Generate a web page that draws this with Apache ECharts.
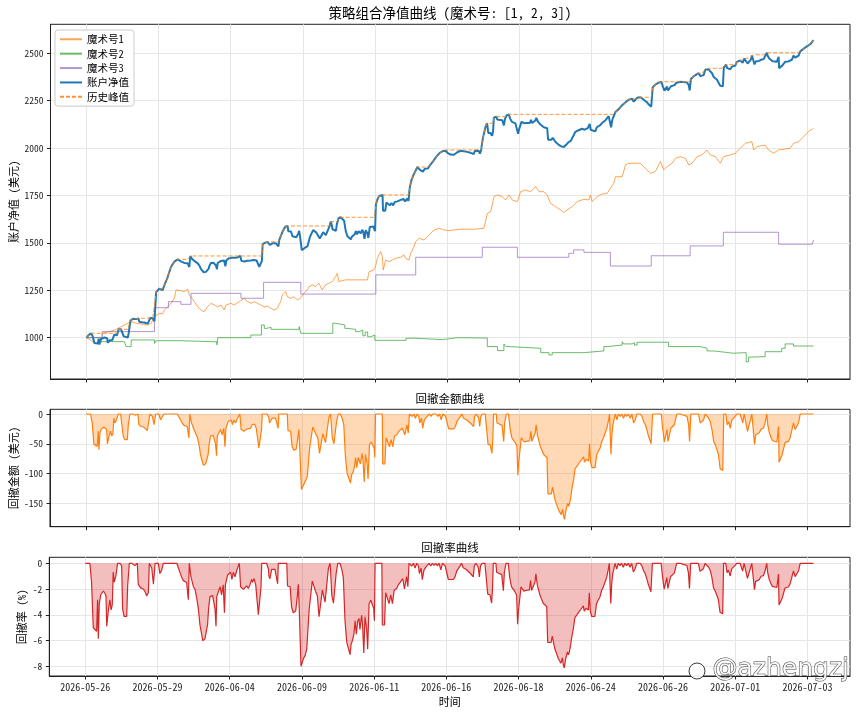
<!DOCTYPE html>
<html>
<head>
<meta charset="utf-8">
<script src="https://cdn.jsdelivr.net/npm/echarts@6/dist/echarts.min.js"></script>
<style>
html, body { margin: 0; padding: 0; background: #fff; }
#main { width: 856px; height: 712px; }
</style>
</head>
<body>
<div id="main"></div>
<script>
// x 轴: 交易序号，每 30 个一个刻度
var tickPos = [0, 30, 60, 90, 120, 150, 180, 210, 240, 270, 300];
var dateLabels = ['2026-05-26', '2026-05-29', '2026-06-04', '2026-06-09', '2026-06-11', '2026-06-16',
                  '2026-06-18', '2026-06-24', '2026-06-26', '2026-07-01', '2026-07-03'];
var equityTicks = [1000, 1250, 1500, 1750, 2000, 2250, 2500];
var ddTicks = [0, -50, -100, -150];
var pctTicks = [0, -2, -4, -6, -8];

// 账户净值 [序号, 净值]
var equity = [
[0,1000],[0.8,1012],[1.9,1023],[2.6,1008],[3.3,972],[4.0,971],[4.7,969],[5.1,994],[5.4,963],[5.8,991],[6.4,998],[7.5,1001],[8.2,999],[8.6,997],[8.9,973],[9.6,986],[10.2,994],[10.7,986],[11.2,990],[11.6,1016],[12.0,1008],[12.7,1013],[13.4,1044],[14.4,1044],[15.1,1042],[15.5,1007],[16.1,1001],[17.2,1001],[17.6,1026],[18.3,1090],[19.3,1100],[20.6,1098],[21.6,1102],[22.0,1084],[23.0,1081],[24.1,1080],[24.8,1078],[25.5,1074],[26.2,1077],[26.6,1105],[27.6,1101],[28.3,1087],[29.0,1240],[30.3,1258],[31.0,1248],[31.7,1251],[32.4,1276],[33.8,1320],[35.2,1374],[36.6,1401],[38.0,1413],[38.6,1411],[39.3,1403],[40.0,1398],[40.7,1394],[41.4,1396],[42.1,1392],[42.8,1373],[43.2,1431],
[43.9,1416],[44.9,1405],[45.6,1402],[46.3,1392],[47.0,1380],[47.6,1363],[48.3,1365],[48.8,1345],[49.7,1347],[50.4,1347],[50.8,1363],[51.2,1380],[51.8,1394],[52.9,1395],[53.6,1394],[53.9,1380],[54.3,1361],[54.6,1394],[55.3,1394],[56.0,1405],[56.6,1396],[57.3,1407],[57.8,1376],[58.2,1407],[58.7,1406],[59.1,1418],[59.8,1416],[60.4,1421],[60.9,1413],[61.5,1421],[62.2,1416],[62.9,1423],[63.6,1421],[64.0,1431],[64.5,1405],[65.7,1402],[66.3,1401],[67.0,1406],[67.7,1403],[68.4,1407],[69.1,1413],[69.5,1410],[70.1,1414],[70.8,1407],[71.2,1409],[71.9,1374],[72.6,1372],[73.0,1405],[73.3,1493],[74.2,1500],[75.3,1505],
[76.1,1498],[76.3,1490],[76.7,1487],[77.4,1498],[78.8,1498],[79.9,1481],[80.2,1515],[81.6,1560],[82.7,1585],[83.7,1589],[84.0,1561],[85.1,1560],[85.7,1535],[86.4,1528],[87.4,1530],[88.1,1549],[88.5,1563],[88.9,1532],[89.6,1462],[90.2,1464],[90.7,1472],[91.3,1475],[92.0,1483],[92.4,1483],[93.0,1532],[93.6,1534],[94.3,1567],[95.0,1565],[95.7,1554],[96.4,1549],[97.1,1523],[97.8,1524],[98.5,1556],[98.9,1554],[99.6,1541],[100.3,1542],[101.0,1583],[101.7,1612],[102.0,1597],[102.4,1572],[103.1,1562],[103.8,1564],[104.2,1599],[104.9,1630],[105.8,1635],[106.5,1628],[107.2,1617],[107.9,1562],[108.6,1535],[109.3,1533],[110.0,1519],[110.4,1532],[111.0,1537],[111.6,1545],[112.1,1562],[112.6,1545],[113.2,1562],[113.7,1565],[114.1,1551],[114.8,1569],[115.2,1556],[115.7,1521],[116.2,1567],[116.9,1551],[117.3,1526],[117.9,1584],[118.6,1588],[119.3,1587],[119.8,1578],[120.1,1562],
[120.4,1700],[121.1,1730],[121.8,1748],[123.2,1753],[123.4,1669],[124.3,1669],[124.8,1713],[125.5,1715],[126.2,1698],[126.9,1710],[127.6,1698],[128.3,1716],[129.0,1717],[129.4,1719],[130.1,1724],[130.8,1727],[131.5,1729],[131.9,1732],[132.6,1718],[133.1,1719],[133.5,1735],[134.0,1721],[134.5,1790],[135.2,1830],[135.6,1826],[136.3,1865],[137.0,1858],[137.7,1900],[138.4,1896],[138.8,1885],[139.5,1893],[140.0,1876],[140.7,1890],[141.4,1894],[142.1,1893],[142.8,1907],[143.5,1903],[144.2,1930],[144.9,1927],[145.6,1955],[146.3,1951],[147.0,1975],[147.7,1965],[148.4,1985],[149.0,1990],[149.5,1986],[150.2,1975],[150.8,1965],
[151.5,1966],[152.9,1965],[153.6,1969],[154.3,1978],[155.0,1980],[155.7,1986],[156.3,1990],[157.0,1983],[157.7,1986],[158.4,1980],[159.1,1978],[159.8,1975],[160.5,1972],[161.2,1969],[161.6,1986],[162.3,1992],[163.3,1985],[163.7,1971],[164.2,1988],[164.9,2050],[166.0,2110],[166.7,2131],[167.2,2080],[168.1,2079],[168.8,2065],[169.2,2091],[169.5,2160],[170.6,2166],[170.9,2151],[171.6,2148],[173.0,2147],[173.7,2120],[174.1,2151],[174.8,2172],[175.7,2178],[176.2,2176],[176.4,2152],[177.1,2138],[177.8,2135],[178.5,2130],[179.2,2124],[179.6,2075],[180.0,2099],[180.6,2102],[181.0,2138],[181.7,2138],[182.2,2131],[183.1,2132],[183.8,2135],[184.5,2133],[185.0,2149],[185.4,2132],[186.1,2135],[186.8,2146],[187.2,2160],[187.8,2141],[188.2,2138],[188.9,2124],[189.6,2121],[190.3,2110],[191.0,2108],[191.7,2105],[192.1,2044],[192.8,2043],[193.5,2044],[194.0,2055],[194.7,2053],[195.1,2033],[195.8,2031],[196.5,2017],[197.2,2017],[197.6,2009],[198.2,2018],[198.6,2006],[199.0,2001],[199.6,2017],[200.3,2028],[200.7,2023],[201.1,2028],[201.6,2039],[202.1,2053],[202.7,2066],[203.4,2086],[204.1,2090],[204.8,2094],[205.5,2097],[206.2,2102],[206.9,2106],[207.3,2097],[208.0,2102],[208.6,2105],[209.0,2099],[209.4,2128],[209.8,2097],[210.4,2088],[211.7,2088],[212.4,2110],[213.1,2116],[213.8,2121],[214.5,2132],[215.2,2138],[215.9,2146],[216.6,2154],[217.3,2168],[217.7,2178],[218.3,2110],[218.7,2143],[219.1,2160],[219.6,2168],[220.1,2190],[220.8,2180],[221.4,2205],[222.1,2201],[222.8,2225],[223.5,2218],[224.2,2240],[224.9,2236],[225.6,2255],[226.3,2248],[227.0,2260],[227.7,2245],[228.4,2250],[229.1,2265],[229.8,2268],
[230.5,2268],[231.2,2264],[231.9,2255],[232.6,2250],[233.2,2242],[233.9,2231],[234.6,2229],[235.0,2218],[235.6,2320],[236.7,2335],[238.1,2345],[239.2,2350],[239.8,2326],[240.5,2303],[241.1,2304],[241.6,2324],[242.0,2304],[242.7,2304],[243.2,2326],[243.9,2329],[244.7,2332],[245.3,2343],[245.7,2350],[247.1,2350],[248.5,2348],[249.2,2347],[249.9,2346],[250.6,2332],[251.0,2304],[251.5,2365],[252.6,2378],[254.7,2395],[255.4,2380],[256.1,2380],[256.8,2385],[257.5,2415],[258.2,2421],[258.9,2414],[259.6,2408],[260.3,2395],[261.0,2375],[261.6,2370],[262.3,2362],[263.0,2353],[263.7,2329],[264.4,2326],[264.8,2326],[265.2,2425],[266.1,2440],[266.6,2422],[267.2,2427],[267.9,2416],[268.6,2430],[269.3,2433],[270.0,2436],[270.6,2455],[272.0,2462],[272.7,2465],[273.1,2450],[273.7,2472],[274.5,2475],[275.1,2446],[275.9,2446],[276.5,2468],[276.9,2488],[277.6,2492],[278.0,2441],[278.5,2457],[279.2,2455],[279.9,2460],[280.8,2467],[281.7,2468],[282.4,2477],[283.1,2503],[283.5,2485],[284.2,2471],[284.9,2463],[285.5,2458],[286.3,2457],[287.3,2456],[288.0,2482],[288.2,2422],[288.9,2420],[289.5,2435],[290.0,2438],[290.7,2455],[291.4,2456],[292.1,2457],[292.8,2463],[293.5,2466],[294.2,2488],[294.9,2477],[295.6,2477],[296.3,2488],[297.0,2510],[297.7,2518],[299.0,2530],[300.4,2542],[301.5,2552],[302.5,2570]
];

// 魔术号1
var magic1 = [
[0,1000],[2,985],[4,970],[6,972],[6.8,1023],[11.7,1040],[17.2,1076],[18.6,1084],[20.7,1076],[25.5,1067],[26.9,1076],[28.3,1111],[30.3,1128],[31.7,1125],[32.4,1146],[33.8,1163],[35.2,1181],[36.6,1208],[37.3,1252],[39.3,1248],[40.7,1243],[42.1,1255],[42.8,1225],[44.9,1190],[46.3,1163],[47.6,1146],[49,1137],[50.4,1163],[51.8,1181],[53.2,1172],[54.6,1163],[56,1172],[57.3,1146],[58,1172],[60.1,1181],[61.5,1172],[63.5,1190],[65.7,1208],[67,1190],[68.4,1181],[69.8,1190],[71.2,1181],[72.6,1172],[74,1163],[75.3,1167],[76.7,1155],[78.1,1146],[79.4,1155],[80.8,1190],[81.5,1225],[82.9,1243],[83.6,1216],[84.3,1220],[85,1208],[86.4,1216],[87.7,1199],[89.1,1208],[90.5,1234],[91.9,1252],[92.6,1269],[94,1278],[95.3,1269],[96.7,1287],[98.1,1252],[99.5,1278],[100.9,1287],[102.3,1296],[103.7,1322],[104.4,1340],[105,1296],[107.8,1305],[116.9,1305],[117.6,1348],[119.6,1357],[120.3,1375],[121,1419],[122.4,1454],[123.1,1427],[123.5,1357],[124.5,1410],[125.9,1401],[127.3,1410],[128.7,1419],[130.7,1424],[132.1,1436],[132.8,1419],[134.2,1410],[134.9,1445],[136.3,1480],[137,1507],[138.4,1524],[140.5,1515],[142.6,1542],[144.6,1568],[146.7,1577],[148.8,1568],[150.8,1565],[155.7,1572],[161.3,1572],[165.4,1577],[166.8,1656],[168.2,1665],[169.6,1744],[171,1753],[173,1744],[174.4,1726],[175.8,1753],[177.2,1726],[179.3,1718],[180.6,1770],[182.7,1779],[184.8,1770],[186.9,1797],[188.3,1770],[190.3,1770],[191.7,1753],[193.1,1709],[195.2,1691],[197.3,1674],[198.6,1660],[200,1674],[202.1,1691],[204.2,1718],[207,1730],[209,1726],[209.7,1753],[210.4,1718],[212.5,1744],[214.6,1758],[216.7,1762],[218,1788],[219.4,1814],[220.1,1849],[222.9,1849],[224.3,1911],[225.7,1920],[230.5,1920],[232.6,1893],[234.7,1867],[236.7,1876],[238.8,1929],[240.2,1885],[241.6,1902],[243.7,1920],[245.1,1946],[247.1,1955],[249.2,1946],[250.6,1911],[252,1920],[254.1,1955],[256.1,1964],[258.2,1990],[259.6,1964],[261.7,1955],[263.7,1920],[265.1,1955],[267.9,1964],[270,1973],[272.1,1999],[274.1,2025],[276.9,2034],[277.6,1990],[279,2008],[282.4,2016],[283.8,1990],[285.9,1973],[288,1990],[292.8,1999],[294.2,2025],[296.3,2034],[298.4,2060],[300.4,2087],[302.5,2104]
];

// 魔术号2 (阶梯)
var magic2 = [
[0,1000],[6,979],[15.8,975],[16.5,953],[18.6,988],[28.3,970],[29,984],[39.4,978],[54.3,962],[54.6,1000],[68.4,1014],[72.8,1067],[74,1049],[75,1055],[76.8,1044],[88.5,1058],[89.2,1023],[102.5,1076],[103.5,1067],[107.5,1049],[108.5,1044],[112,1032],[113.5,1040],[115,1010],[116,1030],[117,1005],[118.3,1014],[120,986],[133,997],[137,990],[148.1,1000],[154.3,998],[166.8,953],[171,932],[173.7,967],[174.5,953],[175.7,944],[189,921],[192.4,909],[193.8,921],[207,930],[215.3,953],[216.6,961],[222.9,979],[223.5,967],[227,974],[228,961],[229.1,976],[242.2,953],[255.4,944],[258.2,930],[261,923],[265.8,918],[269,921],[274.5,873],[275.5,897],[276,900],[282.4,926],[289.3,944],[290.7,967],[294.2,956],[302.5,953]
];

// 魔术号3 (阶梯)
var magic3 = [
[0,1000],[6.5,1032],[28.3,1158],[34.1,1190],[39.3,1176],[43.5,1234],[64.3,1208],[73.7,1292],[89.2,1230],[120.4,1331],[137,1424],[164.7,1477],[179.3,1424],[200.7,1445],[202.7,1463],[207,1450],[218,1378],[235,1432],[251.2,1484],[265,1556],[288,1493],[302,1493],[302.5,1515]
];

// 历史峰值和回撤
var peak = [], ddAmount = [], ddPct = [];
var runMax = -Infinity;
equity.forEach(function (p) {
    runMax = Math.max(runMax, p[1]);
    peak.push([p[0], runMax]);
    ddAmount.push([p[0], p[1] - runMax]);
    ddPct.push([p[0], (p[1] - runMax) / runMax * 100]);
});

var FONT = '"Noto Sans Mono CJK SC", "Noto Sans CJK SC", "Noto Sans", sans-serif';
var gridColor = '#e6e6e6';
var inkColor = '#222';

function xAxisFor(gridIndex, showLabel) {
    var ax = {
        type: 'value', gridIndex: gridIndex, min: -14.96, max: 317.7,
        axisLine: { show: true, onZero: false, lineStyle: { color: inkColor, width: 1 } },
        axisTick: { show: true, customValues: tickPos, length: 3.5, lineStyle: { color: inkColor } },
        axisLabel: {
            show: showLabel, customValues: tickPos, margin: 6,
            fontFamily: FONT, fontSize: 10, color: inkColor,
            formatter: function (v) { return dateLabels[Math.round(v / 30)] || ''; }
        },
        splitLine: { show: true, lineStyle: { color: gridColor, width: 1 } }
    };
    if (showLabel) {
        ax.name = '时间';
        ax.nameLocation = 'middle';
        ax.nameGap = 20;
        ax.nameMoveOverlap = false;
        ax.nameTextStyle = { fontFamily: FONT, fontSize: 11, color: '#000' };
    }
    return ax;
}

function yAxisFor(gridIndex, min, max, ticks, name, nameGap) {
    return {
        type: 'value', gridIndex: gridIndex, min: min, max: max,
        name: name, nameLocation: 'middle', nameGap: nameGap, nameMoveOverlap: false,
        nameTextStyle: { fontFamily: FONT, fontSize: 11, color: '#000' },
        axisLine: { show: true, onZero: false, lineStyle: { color: inkColor, width: 1 } },
        axisTick: { show: true, customValues: ticks, length: 3.5, lineStyle: { color: inkColor } },
        axisLabel: { customValues: ticks, margin: 7, fontFamily: FONT, fontSize: 9.5, color: inkColor,
                     formatter: function (v) { return String(v); } },
        splitLine: { show: true, lineStyle: { color: gridColor, width: 1 } }
    };
}

var chart = echarts.init(document.getElementById('main'), null, { renderer: 'canvas' });

var option = {
    backgroundColor: '#fff',
    animation: false,
    title: [
        { text: '策略组合净值曲线 (魔术号: [1, 2, 3])', left: 450, top: 6, textAlign: 'center', padding: 0,
          textStyle: { fontFamily: FONT, fontSize: 13.5, fontWeight: 'normal', color: '#000' } },
        { text: '回撤金额曲线', left: 450, top: 393, textAlign: 'center', padding: 0,
          textStyle: { fontFamily: FONT, fontSize: 11.5, fontWeight: 'normal', color: '#000' } },
        { text: '回撤率曲线', left: 450, top: 542, textAlign: 'center', padding: 0,
          textStyle: { fontFamily: FONT, fontSize: 11.5, fontWeight: 'normal', color: '#000' } }
    ],
    legend: {
        data: ['魔术号1', '魔术号2', '魔术号3', '账户净值', '历史峰值'],
        orient: 'vertical', left: 55, top: 30,
        padding: [4, 5, 4, 4], itemGap: 3.9, itemWidth: 22, itemHeight: 10,
        itemStyle: { opacity: 0 },
        backgroundColor: 'rgba(255,255,255,0.85)', borderColor: '#cccccc', borderWidth: 1, borderRadius: 3,
        textStyle: { fontFamily: FONT, fontSize: 10.5, color: '#000' }
    },
    grid: [
        { left: 49.3, top: 24.3, right: 6, height: 354.7, show: true, borderColor: inkColor, borderWidth: 1 },
        { left: 49.3, top: 409.3, right: 6, height: 117.4, show: true, borderColor: inkColor, borderWidth: 1 },
        { left: 49.3, top: 557.3, right: 6, height: 118.7, show: true, borderColor: inkColor, borderWidth: 1 }
    ],
    xAxis: [xAxisFor(0, false), xAxisFor(1, false), xAxisFor(2, true)],
    yAxis: [
        yAxisFor(0, 782, 2653, equityTicks, '账户净值 (美元)', 31.5),
        yAxisFor(1, -189.3, 7.9, ddTicks, '回撤金额 (美元)', 31),
        yAxisFor(2, -8.753, 0.466, pctTicks, '回撤率 (%)', 22)
    ],
    series: [
        { name: '魔术号1', type: 'line', xAxisIndex: 0, yAxisIndex: 0, data: magic1, symbol: 'none',
          color: '#ff7f0e', lineStyle: { width: 1, opacity: 0.7 } },
        { name: '魔术号2', type: 'line', xAxisIndex: 0, yAxisIndex: 0, data: magic2, symbol: 'none', step: 'end',
          color: '#2ca02c', lineStyle: { width: 1, opacity: 0.7 } },
        { name: '魔术号3', type: 'line', xAxisIndex: 0, yAxisIndex: 0, data: magic3, symbol: 'none', step: 'end',
          color: '#9467bd', lineStyle: { width: 1, opacity: 0.7 } },
        { name: '账户净值', type: 'line', xAxisIndex: 0, yAxisIndex: 0, data: equity, symbol: 'none',
          color: '#1f77b4', lineStyle: { width: 2 } },
        { name: '历史峰值', type: 'line', xAxisIndex: 0, yAxisIndex: 0, data: peak, symbol: 'none',
          color: '#ff7f0e', lineStyle: { width: 1, type: [4, 2], opacity: 0.85 } },
        { name: '回撤金额', type: 'line', xAxisIndex: 1, yAxisIndex: 1, data: ddAmount, symbol: 'none',
          color: '#ff7f0e', lineStyle: { width: 1.2 }, areaStyle: { color: '#ff7f0e', opacity: 0.3 } },
        { name: '回撤率', type: 'line', xAxisIndex: 2, yAxisIndex: 2, data: ddPct, symbol: 'none',
          color: '#d62728', lineStyle: { width: 1.2 }, areaStyle: { color: '#d62728', opacity: 0.3 } }
    ],
    graphic: [
        { type: 'circle', shape: { cx: 697, cy: 671, r: 8 }, z: 100,
          style: { fill: 'rgba(255,255,255,0.9)', stroke: '#3a3a3a', lineWidth: 1 } },
        { type: 'text', left: 712, top: 656, z: 100,
          style: { text: '@azhengzj', font: '25px "DejaVu Sans"', fill: 'rgba(255,255,255,0.9)', stroke: '#3a3a3a', lineWidth: 1 } }
    ]
};

chart.setOption(option);
</script>
</body>
</html>
